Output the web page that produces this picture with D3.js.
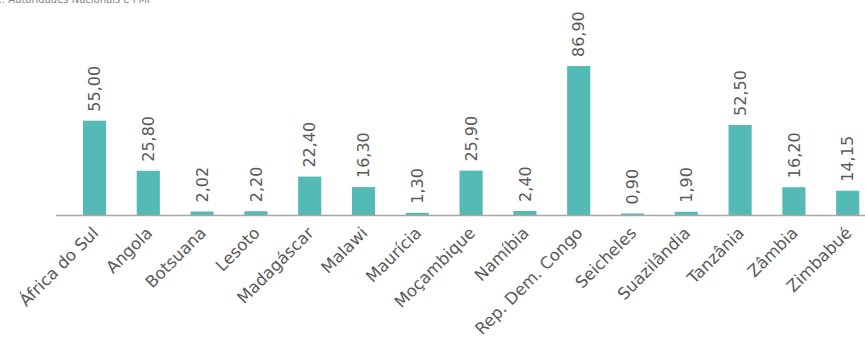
<!DOCTYPE html>
<meta charset="utf-8">
<style>
body { margin: 0; background: #fff; }
svg { display: block; font-family: "DejaVu Sans", sans-serif; }
.valor { fill: #595959; font-size: 16px; }
.pais { fill: #595959; font-size: 16.5px; }
.fonte { fill: #7f7f7f; font-size: 10px; }
</style>
<svg width="865" height="337"></svg>
<script src="https://d3js.org/d3.v7.min.js"></script>
<script>
var paises = ["África do Sul", "Angola", "Botsuana", "Lesoto", "Madagáscar", "Malawi", "Maurícia",
    "Moçambique", "Namíbia", "Rep. Dem. Congo", "Seicheles", "Suazilândia", "Tanzânia", "Zâmbia", "Zimbabué"];
var valores = [55.00, 25.80, 2.02, 2.20, 22.40, 16.30, 1.30, 25.90, 2.40, 86.90, 0.90, 1.90, 52.50, 16.20, 14.15];
var rotulos = ["55,00", "25,80", "2,02", "2,20", "22,40", "16,30", "1,30", "25,90", "2,40", "86,90",
    "0,90", "1,90", "52,50", "16,20", "14,15"];

var svg = d3.select("svg");
var base = 215;

var x = d3.scaleBand()
    .domain(paises)
    .range([67.6, 874.6])
    .paddingInner(0.57)
    .paddingOuter(0.285);

var y = d3.scaleLinear()
    .domain([0, 86.9])
    .range([base, 66]);

// fonte (cortada no topo, como no original)
svg.append("text")
    .attr("class", "fonte")
    .attr("text-anchor", "end")
    .attr("x", 150)
    .attr("y", 3)
    .text("Fonte: Autoridades Nacionais e FMI");

svg.selectAll(".barra")
    .data(valores)
    .enter().append("rect")
    .attr("class", "barra")
    .attr("x", function(d, i) { return x(paises[i]); })
    .attr("width", x.bandwidth())
    .attr("y", function(d) { return y(d); })
    .attr("height", function(d) { return base - y(d); })
    .attr("fill", "#53bab5");

// eixo
svg.append("line")
    .attr("x1", 56)
    .attr("x2", 865)
    .attr("y1", base + 0.5)
    .attr("y2", base + 0.5)
    .attr("stroke", "#a6a6a6")
    .attr("stroke-width", 1.5);

svg.selectAll(".valor")
    .data(valores)
    .enter().append("text")
    .attr("class", "valor")
    .attr("transform", function(d, i) {
        var cx = x(paises[i]) + x.bandwidth() / 2;
        return "translate(" + cx + "," + (y(d) - 9) + ") rotate(-90)";
    })
    .attr("dy", "0.35em")
    .text(function(d, i) { return rotulos[i]; });

svg.selectAll(".pais")
    .data(paises)
    .enter().append("text")
    .attr("class", "pais")
    .attr("text-anchor", "end")
    .attr("transform", function(d) {
        var cx = x(d) + x.bandwidth() / 2;
        return "translate(" + (cx + 5) + "," + (base + 19) + ") rotate(-45)";
    })
    .text(function(d) { return d; });
</script>
